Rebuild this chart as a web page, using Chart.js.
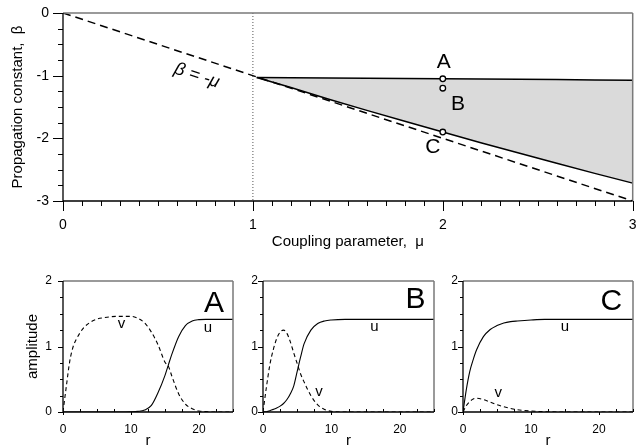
<!DOCTYPE html>
<html><head><meta charset="utf-8">
<script src="https://cdn.jsdelivr.net/npm/chart.js@4"></script>
<style>
html,body{margin:0;padding:0;background:#fff;overflow:hidden;width:638px;height:447px;position:relative}
canvas{position:absolute}
</style></head><body>
<canvas id="cTop" width="638" height="256" style="left:0px;top:0px"></canvas>
<canvas id="cA" width="236" height="192" style="left:0px;top:258px"></canvas>
<canvas id="cB" width="200" height="192" style="left:236px;top:258px"></canvas>
<canvas id="cC" width="202" height="192" style="left:436px;top:258px"></canvas>
<script>
// ---------- top panel data ----------
const muBranch   = [1.02, 1.2, 1.4, 1.6, 1.8, 2.0, 2.2, 2.4, 2.6, 2.8, 3.0];
const betaUpper  = [-1.03, -1.034, -1.038, -1.041, -1.045, -1.05, -1.054, -1.058, -1.063, -1.068, -1.075];
const betaLower  = [-1.03, -1.19, -1.375, -1.554, -1.728, -1.9, -2.069, -2.234, -2.398, -2.559, -2.715];
const muDiag     = [0, 3];
const betaDiag   = [0, -3];
const muMarks    = [2, 2, 2];
const betaMarks  = [-1.05, -1.2, -1.9];
const markNames  = ['A', 'B', 'C'];
const topXLabels = [0, 1, 2, 3];
const topYLabels = [0, -1, -2, -3];

// ---------- bottom panels data ----------
const rA = [0, 0.5, 1, 1.5, 2, 3, 4, 5, 6, 8, 10, 11, 12, 13, 14, 15, 15.5, 16, 17, 18, 19, 20, 21, 22, 25];
const uA = [0, 0, 0, 0, 0, 0, 0, 0, 0, 0, 0.003, 0.01, 0.03, 0.1, 0.3, 0.56, 0.72, 0.88, 1.15, 1.32, 1.39, 1.41, 1.414, 1.414, 1.414];
const vA = [0, 0.4, 0.78, 1.0, 1.12, 1.28, 1.37, 1.42, 1.44, 1.46, 1.46, 1.43, 1.36, 1.22, 1.02, 0.76, 0.7, 0.55, 0.28, 0.12, 0.05, 0.015, 0.005, 0, 0];

const rB = [0, 0.5, 1, 1.5, 2, 2.5, 3, 3.5, 4, 4.5, 5, 5.5, 6, 7, 8, 9, 10, 12, 15, 25];
const uB = [0, 0.005, 0.02, 0.04, 0.06, 0.09, 0.13, 0.19, 0.28, 0.4, 0.62, 0.84, 1.04, 1.25, 1.35, 1.39, 1.405, 1.414, 1.414, 1.414];
const vB = [0, 0.38, 0.72, 0.95, 1.12, 1.22, 1.25, 1.2, 1.07, 0.9, 0.74, 0.58, 0.46, 0.25, 0.11, 0.04, 0.01, 0, 0, 0];

const rC = [0, 0.5, 1, 1.5, 2, 3, 4, 5, 6, 7, 8, 10, 12, 15, 25];
const uC = [0, 0.35, 0.62, 0.8, 0.95, 1.15, 1.26, 1.32, 1.36, 1.38, 1.39, 1.405, 1.414, 1.414, 1.414];
const vC = [0, 0.1, 0.16, 0.2, 0.21, 0.19, 0.15, 0.11, 0.08, 0.055, 0.035, 0.015, 0.005, 0, 0];

const botXLabels = [0, 10, 20];
const botYLabels = [0, 1, 2];

// ---------- setup ----------
const FONT = 'Arial, "Liberation Sans", Helvetica, sans-serif';
Chart.defaults.font.family = FONT;
Chart.defaults.color = '#000';
Chart.defaults.animation = false;
Chart.defaults.elements.point.radius = 0;
Chart.defaults.elements.line.tension = 0;

const pts = (xs, ys) => xs.map((x, i) => ({x: x, y: ys[i]}));

const decor = {
  id: 'decor',
  afterDraw(chart, args, o) {
    const ctx = chart.ctx, a = chart.chartArea, sx = chart.scales.x, sy = chart.scales.y;
    ctx.save();
    // gray frame (top, right)
    ctx.lineWidth = 1.5;
    ctx.strokeStyle = '#7a7a7a';
    ctx.beginPath();
    ctx.moveTo(a.left, a.top); ctx.lineTo(a.right, a.top);
    ctx.moveTo(a.right, a.top); ctx.lineTo(a.right, a.bottom);
    ctx.stroke();
    // black axes
    ctx.strokeStyle = '#000';
    ctx.lineWidth = 1.3;
    ctx.beginPath();
    ctx.moveTo(a.left, a.top); ctx.lineTo(a.left, a.bottom); ctx.lineTo(a.right, a.bottom);
    ctx.stroke();
    // ticks
    ctx.lineWidth = 1;
    const xt = o.xTicks, yt = o.yTicks;
    ctx.beginPath();
    for (let k = 0; ; k++) {
      const v = xt.min + k * xt.minor;
      if (v > xt.max + 1e-9) break;
      const major = Math.abs(v / xt.major - Math.round(v / xt.major)) < 1e-6;
      const px = Math.round(sx.getPixelForValue(v)) + 0.5;
      const len = major ? xt.majorLen : xt.minorLen;
      ctx.moveTo(px, a.bottom); ctx.lineTo(px, a.bottom + len);
    }
    for (let k = 0; ; k++) {
      const v = yt.min + k * yt.minor;
      if (v > yt.max + 1e-9) break;
      const major = Math.abs(v / yt.major - Math.round(v / yt.major)) < 1e-6;
      const py = Math.round(sy.getPixelForValue(v)) + 0.5;
      const len = major ? yt.majorLen : yt.minorLen;
      ctx.moveTo(a.left, py); ctx.lineTo(a.left - len, py);
    }
    ctx.stroke();
    // text annotations
    ctx.fillStyle = '#000';
    ctx.textAlign = 'center';
    ctx.textBaseline = 'middle';
    for (const t of o.texts) {
      ctx.save();
      ctx.translate(sx.getPixelForValue(t.x), sy.getPixelForValue(t.y));
      if (t.rot) ctx.rotate(t.rot * Math.PI / 180);
      ctx.font = t.font;
      ctx.fillText(t.text, 0, 0);
      ctx.restore();
    }
    ctx.restore();
  }
};

function fmt(list) { return v => (list.indexOf(v) >= 0 ? String(v) : ''); }
function fixX(h) { return s => { s.height = h; s.paddingLeft = 0; s.paddingRight = 0; s.paddingTop = 0; s.paddingBottom = 0; }; }
function fixY(w) { return s => { s.width = w; s.paddingLeft = 0; s.paddingRight = 0; s.paddingTop = 0; s.paddingBottom = 0; }; }

// ---------- top chart ----------
new Chart(document.getElementById('cTop'), {
  type: 'line',
  data: {
    datasets: [
      {data: pts(muBranch, betaUpper), borderColor: '#000', borderWidth: 1.5, fill: false, order: 1},
      {data: pts(muBranch, betaLower), borderColor: '#000', borderWidth: 1.5,
       fill: {target: 0}, backgroundColor: '#dadada', order: 1},
      {data: pts(muDiag, betaDiag), borderColor: '#000', borderWidth: 1.5, borderDash: [8, 5], fill: false, order: 2},
      {data: pts([1, 1], [0, -3]), borderColor: '#555', borderWidth: 1, borderDash: [1, 2], fill: false, order: 3},
      {data: pts(muMarks, betaMarks), showLine: false, pointRadius: 2.8, pointBackgroundColor: '#fff',
       pointBorderColor: '#000', pointBorderWidth: 1.3, order: 0}
    ]
  },
  options: {
    responsive: false,
    devicePixelRatio: 1,
    layout: {padding: {top: 13, right: 5, left: 0, bottom: 0}},
    plugins: {
      legend: {display: false}, tooltip: {enabled: false},
      filler: {drawTime: 'beforeDatasetsDraw'},
      decor: {
        xTicks: {min: 0, max: 3, minor: 0.1, major: 1, minorLen: 5, majorLen: 10},
        yTicks: {min: -3, max: 0, minor: 0.25, major: 1, minorLen: 5, majorLen: 10},
        texts: [
          {text: markNames[0], x: 2.005, y: -0.79, font: '21px ' + FONT},
          {text: markNames[1], x: 2.08, y: -1.45, font: '21px ' + FONT},
          {text: markNames[2], x: 1.947, y: -2.14, font: '21px ' + FONT},
          {text: 'β = -μ', x: 0.705, y: -1.0, rot: 18.3, font: 'italic 18px ' + FONT}
        ]
      }
    },
    scales: {
      x: {type: 'linear', min: 0, max: 3,
          border: {display: false}, grid: {display: false, drawTicks: false},
          ticks: {stepSize: 1, padding: 16, autoSkip: false, maxRotation: 0, font: {size: 14}, callback: fmt(topXLabels)},
          title: {display: true, text: 'Coupling parameter,  μ', font: {size: 15}, padding: {top: 0, bottom: 5}},
          afterFit: fixX(55)},
      y: {type: 'linear', min: -3, max: 0,
          border: {display: false}, grid: {display: false, drawTicks: false},
          ticks: {stepSize: 1, padding: 14, font: {size: 14}, callback: fmt(topYLabels)},
          title: {display: true, text: 'Propagation constant,  β', font: {size: 15}, padding: {top: 9, bottom: 0}},
          afterFit: fixY(63)}
    }
  },
  plugins: [decor]
});

// ---------- bottom charts ----------
function panel(id, r, u, v, yw, ypad, rightPad, showTitle, texts) {
  new Chart(document.getElementById(id), {
    type: 'line',
    data: {
      datasets: [
        {data: pts(r, u), borderColor: '#000', borderWidth: 1.1, cubicInterpolationMode: 'monotone', fill: false},
        {data: pts(r, v), borderColor: '#000', borderWidth: 1.1, borderDash: [4, 3], cubicInterpolationMode: 'monotone', fill: false}
      ]
    },
    options: {
      responsive: false,
      devicePixelRatio: 1,
      layout: {padding: {top: 23, right: rightPad, left: 0, bottom: 0}},
      plugins: {
        legend: {display: false}, tooltip: {enabled: false},
        decor: {
          xTicks: {min: 0, max: 25, minor: 2.5, major: 10, minorLen: -3, majorLen: 3},
          yTicks: {min: 0, max: 2, minor: 0.25, major: 1, minorLen: 3, majorLen: 5},
          texts: texts
        }
      },
      scales: {
        x: {type: 'linear', min: 0, max: 25,
            border: {display: false}, grid: {display: false, drawTicks: false},
            ticks: {stepSize: 10, padding: 10, autoSkip: false, maxRotation: 0, font: {size: 12}, callback: fmt(botXLabels)},
            title: {display: true, text: 'r', font: {size: 15}, padding: {top: 0, bottom: 0}},
            afterFit: fixX(38)},
        y: {type: 'linear', min: 0, max: 2,
            border: {display: false}, grid: {display: false, drawTicks: false},
            ticks: {stepSize: 1, padding: ypad, font: {size: 12}, callback: fmt(botYLabels)},
            title: {display: showTitle, text: 'amplitude', font: {size: 15}, padding: {top: 24, bottom: 0}},
            afterFit: fixY(yw)}
      }
    },
    plugins: [decor]
  });
}

const big = '30px ' + FONT, small = '15px ' + FONT;
panel('cA', rA, uA, vA, 63, 11, 3, true, [
  {text: markNames[0], x: 22.2, y: 1.66, font: big},
  {text: 'v', x: 8.6, y: 1.34, font: small},
  {text: 'u', x: 21.3, y: 1.28, font: small}
]);
panel('cB', rB, uB, vB, 27, 5, 2, false, [
  {text: markNames[1], x: 22.3, y: 1.71, font: big},
  {text: 'u', x: 16.3, y: 1.3, font: small},
  {text: 'v', x: 8.2, y: 0.3, font: small}
]);
panel('cC', rC, uC, vC, 27, 5, 5, false, [
  {text: markNames[2], x: 21.8, y: 1.68, font: big},
  {text: 'u', x: 15.0, y: 1.3, font: small},
  {text: 'v', x: 5.2, y: 0.29, font: small}
]);
</script>
</body></html>
